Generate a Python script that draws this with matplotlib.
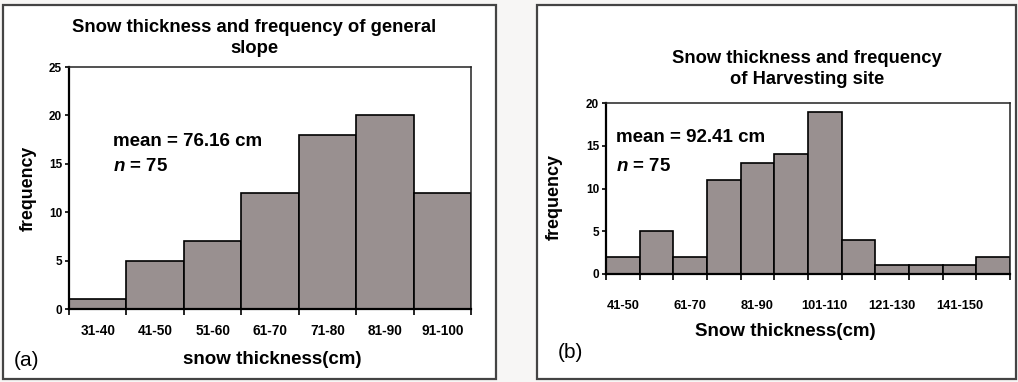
import matplotlib
matplotlib.use("Agg")
import matplotlib.pyplot as plt
from matplotlib.patches import Rectangle

plt.rcParams['font.family'] = ['Liberation Sans', 'DejaVu Sans']
plt.rcParams['font.sans-serif'] = ['Liberation Sans']
plt.rcParams['mathtext.fontset'] = 'custom'
plt.rcParams['mathtext.bfit'] = 'Liberation Sans:italic:bold'
plt.rcParams['mathtext.it'] = 'Liberation Sans:italic'

# ---- data ----
cats_a = ["31-40", "41-50", "51-60", "61-70", "71-80", "81-90", "91-100"]
freq_a = [1, 5, 7, 12, 18, 20, 12]
yticks_a = [0, 5, 10, 15, 20, 25]

cats_b = ["41-50", "51-60", "61-70", "71-80", "81-90", "91-100", "101-110",
          "111-120", "121-130", "131-140", "141-150", "151-160"]
freq_b = [2, 5, 2, 11, 13, 14, 19, 4, 1, 1, 1, 2]
yticks_b = [0, 5, 10, 15, 20]

title_a = "Snow thickness and frequency of general\nslope"
title_b = "Snow thickness and frequency\nof Harvesting site"
xlabel_a = "snow thickness(cm)"
xlabel_b = "Snow thickness(cm)"
mean_a = "mean = 76.16 cm"
mean_b = "mean = 92.41 cm"
n_text = r"$\mathbfit{n}$ = 75"

W, H = 1018, 382
fig = plt.figure(figsize=(W / 100, H / 100), dpi=100)
fig.patch.set_facecolor("#f7f6f5")

def px_axes(l, t, r, b):
    return fig.add_axes([l / W, (H - b) / H, (r - l) / W, (b - t) / H])

bar_color = "#999090"

def draw(ax, cats, freq, ymax, yticks, label_every, tick_fs, pad):
    n = len(cats)
    x = list(range(n))
    ax.bar(x, freq, width=1.0, color=bar_color, edgecolor="black", linewidth=1.2, zorder=2)
    ax.set_xlim(-0.5, n - 0.5)
    ax.set_ylim(0, ymax)
    ax.set_facecolor("white")
    ax.set_yticks(yticks)
    ax.set_yticklabels([str(v) for v in yticks], fontsize=8.5, fontweight="bold")
    ax.set_xticks([i - 0.5 for i in range(n + 1)])
    ax.set_xticklabels([])
    ax.set_xticks([i for i in x if i % label_every == 0], minor=True)
    ax.set_xticklabels([cats[i] for i in x if i % label_every == 0], minor=True,
                       fontsize=tick_fs, fontweight="bold")
    ax.tick_params(axis="x", which="minor", length=0, pad=pad)
    ax.tick_params(axis="x", which="major", length=4, width=1.2, direction="out")
    ax.tick_params(axis="y", length=3, width=1.2, direction="out", pad=2)
    for s in ["left", "bottom"]:
        ax.spines[s].set_linewidth(1.6)
    for s in ["top", "right"]:
        ax.spines[s].set_linewidth(1.1)
        ax.spines[s].set_color("#222222")

# panel frames
fig.add_artist(Rectangle((3 / W, (H - 379) / H), (496 - 3) / W, (379 - 5) / H,
                         transform=fig.transFigure, fill=True, facecolor="white",
                         edgecolor="#444444", linewidth=1.6, zorder=0))
fig.add_artist(Rectangle((537 / W, (H - 379) / H), (1016 - 537) / W, (379 - 5) / H,
                         transform=fig.transFigure, fill=True, facecolor="white",
                         edgecolor="#444444", linewidth=1.6, zorder=0))

# panel a
ax1 = px_axes(69, 67, 471, 309)
draw(ax1, cats_a, freq_a, 25, yticks_a, 1, 9.8, 11)
fig.text(254 / W, 1 - 38 / H, title_a, ha="center", va="center", fontsize=13.3,
         fontweight="bold", linespacing=1.38)
fig.text(272 / W, 1 - 360 / H, xlabel_a, ha="center", va="center", fontsize=13.5, fontweight="bold")
fig.text(28 / W, 1 - 188 / H, "frequency", ha="center", va="center", rotation=90,
         fontsize=12.8, fontweight="bold")
fig.text(14 / W, 1 - 361 / H, "(a)", ha="left", va="center", fontsize=15)
ax1.text(113 / W, 1 - 142 / H, mean_a, transform=fig.transFigure, ha="left", va="center",
         fontsize=13.5, fontweight="bold")
ax1.text(113 / W, 1 - 167 / H, n_text, transform=fig.transFigure, ha="left", va="center",
         fontsize=13.5, fontweight="bold")

# panel b
ax2 = px_axes(606, 103, 1010, 274)
draw(ax2, cats_b, freq_b, 20, yticks_b, 2, 9.3, 19)
fig.text(807 / W, 1 - 69 / H, title_b, ha="center", va="center", fontsize=13.2,
         fontweight="bold", linespacing=1.32)
fig.text(785 / W, 1 - 331 / H, xlabel_b, ha="center", va="center", fontsize=13.5, fontweight="bold")
fig.text(554 / W, 1 - 197 / H, "frequency", ha="center", va="center", rotation=90,
         fontsize=13, fontweight="bold")
fig.text(558 / W, 1 - 353 / H, "(b)", ha="left", va="center", fontsize=15)
ax2.text(616 / W, 1 - 138 / H, mean_b, transform=fig.transFigure, ha="left", va="center",
         fontsize=13.5, fontweight="bold")
ax2.text(616 / W, 1 - 167 / H, n_text, transform=fig.transFigure, ha="left", va="center",
         fontsize=13.5, fontweight="bold")

fig.savefig("out.png", dpi=100, facecolor=fig.get_facecolor())
